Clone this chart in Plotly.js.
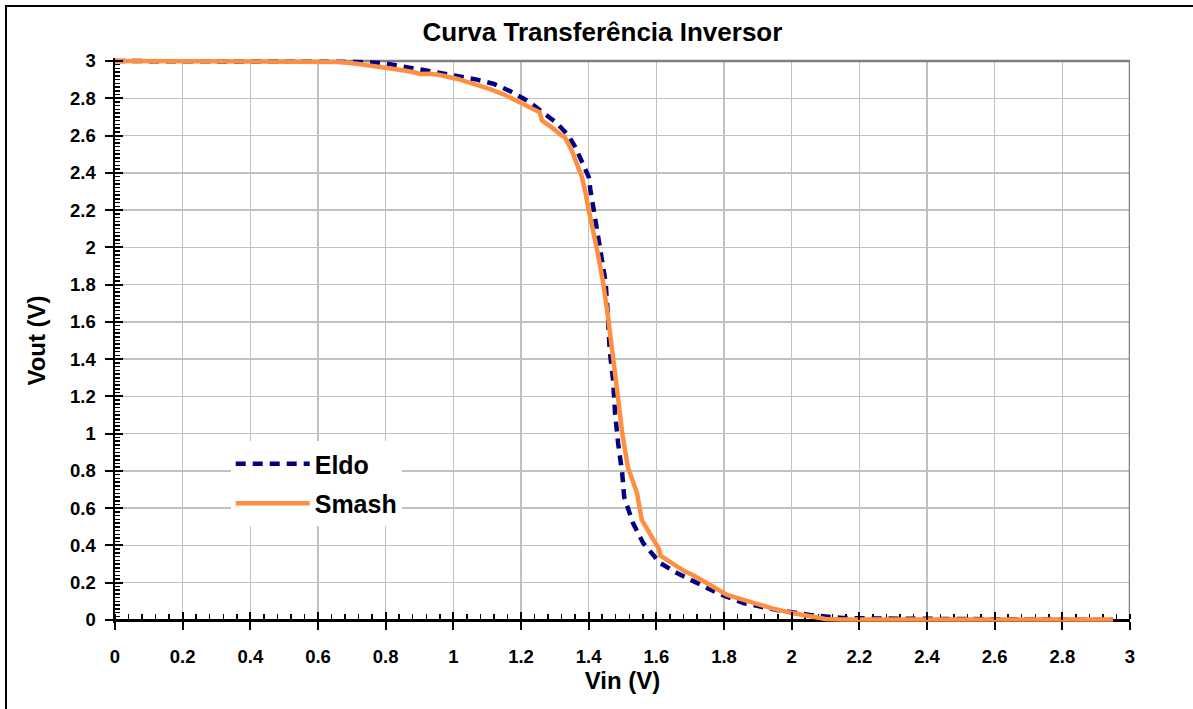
<!DOCTYPE html>
<html>
<head>
<meta charset="utf-8">
<script src="https://cdn.plot.ly/plotly-3.0.1.min.js"></script>
<style>
  html, body { margin: 0; padding: 0; background: #ffffff; }
  #chart { width: 1193px; height: 709px; }
</style>
</head>
<body>
<div id="chart"></div>
<script>
// ---- Data ----
const chartTitle = "Curva Transferência Inversor";
const xTitle = "Vin (V)";
const yTitle = "Vout (V)";
const seriesNames = ["Eldo", "Smash"];

const vinEldo  = [0, 0.3, 0.6, 0.66, 0.72, 0.8, 0.88, 0.95, 1.0, 1.07, 1.12, 1.17, 1.22, 1.265, 1.305, 1.34, 1.36, 1.38, 1.40, 1.405, 1.42, 1.435, 1.45, 1.457, 1.462, 1.472, 1.478, 1.487, 1.499, 1.505, 1.515, 1.531, 1.561, 1.611, 1.661, 1.729, 1.78, 1.857, 1.956, 2.054, 2.15, 2.25, 2.4, 2.6, 2.8, 2.95];
const voutEldo = [3, 3, 3, 2.998, 2.995, 2.987, 2.962, 2.937, 2.92, 2.9, 2.877, 2.836, 2.786, 2.727, 2.668, 2.6, 2.54, 2.46, 2.378, 2.31, 2.136, 1.986, 1.814, 1.63, 1.45, 1.29, 1.11, 0.95, 0.79, 0.66, 0.6, 0.52, 0.413, 0.306, 0.252, 0.188, 0.145, 0.091, 0.054, 0.027, 0.011, 0.008, 0.005, 0.003, 0.002, 0.002];

const vinSmash  = [0, 0.3, 0.6, 0.665, 0.715, 0.76, 0.813, 0.86, 0.893, 0.9, 0.93, 0.96, 1.01, 1.05, 1.1, 1.15, 1.2, 1.235, 1.255, 1.262, 1.29, 1.32, 1.33, 1.35, 1.37, 1.38, 1.39, 1.40, 1.425, 1.443, 1.457, 1.468, 1.48, 1.487, 1.499, 1.516, 1.543, 1.552, 1.557, 1.58, 1.608, 1.612, 1.64, 1.661, 1.685, 1.709, 1.735, 1.759, 1.809, 1.86, 1.907, 1.95, 2.005, 2.05, 2.10, 2.15, 2.4, 2.7, 2.95];
const voutSmash = [3, 3, 3, 2.995, 2.985, 2.975, 2.962, 2.948, 2.936, 2.93, 2.932, 2.925, 2.905, 2.885, 2.855, 2.82, 2.775, 2.745, 2.725, 2.68, 2.645, 2.6, 2.59, 2.52, 2.43, 2.378, 2.3, 2.2, 1.986, 1.81, 1.63, 1.45, 1.3, 1.19, 1.004, 0.82, 0.68, 0.58, 0.537, 0.467, 0.38, 0.345, 0.31, 0.285, 0.26, 0.24, 0.215, 0.188, 0.134, 0.105, 0.08, 0.058, 0.036, 0.02, 0.005, 0.003, 0.003, 0.003, 0.003];

const tickVals   = [0, 0.2, 0.4, 0.6, 0.8, 1, 1.2, 1.4, 1.6, 1.8, 2, 2.2, 2.4, 2.6, 2.8, 3];
const tickLabels = ["0", "0.2", "0.4", "0.6", "0.8", "1", "1.2", "1.4", "1.6", "1.8", "2", "2.2", "2.4", "2.6", "2.8", "3"];

// ---- Styling ----
const FONT = "Liberation Sans, Arial, sans-serif";
const yPad = 0.0161;                    // keeps the 3 V / 0 V lines from being clipped
const yRange = [-yPad, 3 + yPad];
const xAxisPos = yPad / (3 + 2 * yPad); // paper position of y = 0

const traces = [
  {
    x: vinEldo, y: voutEldo, name: seriesNames[0], type: "scatter", mode: "lines",
    line: { color: "#000080", width: 4.5, dash: "10px,7px" },
    legendgroup: "g1"
  },
  {
    x: vinSmash, y: voutSmash, name: seriesNames[1], type: "scatter", mode: "lines",
    line: { color: "#ff8f40", width: 4.5 },
    legendgroup: "g2"
  },
  {
    // invisible helper so the overlay tick axes are drawn
    x: [vinEldo[0]], y: [voutEldo[0]], xaxis: "x2", yaxis: "y2",
    type: "scatter", mode: "none", showlegend: false, hoverinfo: "skip"
  }
];

const tickFont = { family: FONT, size: 18.5, color: "#000", weight: 700 };

const layout = {
  width: 1193, height: 709,
  paper_bgcolor: "#ffffff", plot_bgcolor: "#ffffff",
  margin: { l: 115, r: 63, t: 58, b: 86 },
  showlegend: true,
  title: {
    text: chartTitle,
    font: { family: FONT, size: 26, color: "#000", weight: 700 },
    x: 0.505, xref: "container", xanchor: "center",
    y: 1 - 32 / 709, yref: "container", yanchor: "middle"
  },
  legend: {
    x: 0.114, y: 0.322, xanchor: "left", yanchor: "top",
    bgcolor: "#ffffff", borderwidth: 0,
    font: { family: FONT, size: 25, color: "#000", weight: 700 },
    traceorder: "grouped", tracegroupgap: 4, itemwidth: 74
  },
  xaxis: {
    range: [0, 3], anchor: "free", position: xAxisPos,
    tickvals: tickVals, ticktext: tickLabels,
    tickfont: tickFont, ticks: "outside", ticklen: 8, tickwidth: 2, tickcolor: "#000",
    ticklabelstandoff: 11,
    minor: { dtick: 0.04, tick0: 0, ticks: "inside", ticklen: 5, tickwidth: 1.5, tickcolor: "#000", showgrid: false },
    showgrid: true, gridcolor: "#c0c0c0", gridwidth: 1.5,
    zeroline: false, showline: true, linecolor: "#000", linewidth: 2.5,
    layer: "below traces",
    title: { text: xTitle, font: { family: FONT, size: 24, color: "#000", weight: 700 }, standoff: 6 }
  },
  yaxis: {
    range: yRange, anchor: "x",
    tickvals: tickVals, ticktext: tickLabels,
    tickfont: tickFont, ticks: "outside", ticklen: 8, tickwidth: 2, tickcolor: "#000",
    ticklabelstandoff: 5,
    minor: { dtick: 0.02, tick0: 0, ticks: "inside", ticklen: 5, tickwidth: 1.5, tickcolor: "#000", showgrid: false },
    showgrid: true, gridcolor: "#c0c0c0", gridwidth: 1.5,
    zeroline: false, showline: true, linecolor: "#000", linewidth: 2.5,
    layer: "below traces",
    title: { text: yTitle, font: { family: FONT, size: 24, color: "#000", weight: 700 }, standoff: 18 }
  },
  xaxis2: {
    overlaying: "x", anchor: "free", position: xAxisPos, range: [0, 3],
    tickvals: tickVals, ticks: "inside", ticklen: 8, tickwidth: 2, tickcolor: "#000",
    showticklabels: false, showgrid: false, zeroline: false, showline: false
  },
  yaxis2: {
    overlaying: "y", anchor: "x", range: yRange,
    tickvals: tickVals, ticks: "inside", ticklen: 8, tickwidth: 2, tickcolor: "#000",
    showticklabels: false, showgrid: false, zeroline: false, showline: false
  },
  shapes: [
    // hide grid stubs above the 3 V line
    { type: "rect", xref: "x", yref: "y", x0: 0, x1: 3.01, y0: 3.001, y1: 3 + yPad + 0.01,
      fillcolor: "#ffffff", line: { width: 0 }, layer: "between" },
    // grey plot-area frame (top and right)
    { type: "line", xref: "x", yref: "y", x0: 0, x1: 3, y0: 3, y1: 3,
      line: { color: "#808080", width: 2.5 }, layer: "between" },
    { type: "line", xref: "x", yref: "y", x0: 3, x1: 3, y0: 0, y1: 3,
      line: { color: "#808080", width: 2.5 }, layer: "between" },
    // outer chart border
    { type: "rect", xref: "paper", yref: "paper",
      x0: (6 - 115) / 1015, x1: 1.2, y0: -0.4, y1: (623 - 6) / 565,
      line: { color: "#000", width: 2 }, fillcolor: "rgba(0,0,0,0)", layer: "above" }
  ]
};

Plotly.newPlot("chart", traces, layout, { staticPlot: true, displayModeBar: false });
</script>
</body>
</html>
